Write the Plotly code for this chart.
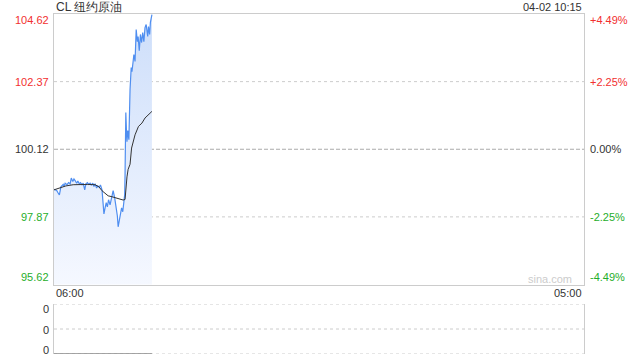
import plotly.graph_objects as go

title_text = "CL 纽约原油"
time_text = "04-02 10:15"
prev_close = 100.12
y_ticks = [104.62, 102.37, 100.12, 97.87, 95.62]
pct_labels = ["+4.49%", "+2.25%", "0.00%", "-2.25%", "-4.49%"]
x_labels = ["06:00", "05:00"]
session_minutes = 1380  # 06:00 -> 05:00 next day

price_min = [0, 7, 10, 14, 18, 24, 26, 29, 34, 38, 42, 45, 49, 52, 55, 59, 62, 66, 69, 73,
             76, 80, 83, 87, 90, 94, 97, 101, 104, 107, 111, 114, 118, 121, 125, 128, 130, 133, 136, 139,
             142, 146, 150, 154, 158, 161, 165, 167, 170, 173, 176, 179, 181, 184, 185, 187, 189, 190, 192, 195,
             198, 199, 201, 203, 205, 208, 211, 214, 217, 219, 222, 225, 228, 231, 234, 237, 240, 244, 246, 249,
             251, 254, 255]
price = [98.79, 98.75, 98.68, 98.60, 98.87, 98.95, 98.88, 98.99, 98.94, 99.01, 98.97, 99.16, 99.05, 99.13, 99.08,
         98.99, 99.06, 98.97, 99.01, 98.94, 98.99, 98.77, 98.97, 99.01, 98.95, 98.99, 98.93, 98.99, 98.88, 98.97,
         98.83, 98.90, 98.86, 98.93, 98.77, 98.37, 97.97, 98.17, 98.34, 98.20, 98.44, 98.27, 98.54, 98.74, 98.50,
         98.27, 97.90, 97.54, 97.80, 98.04, 98.17, 98.04, 98.37, 98.60, 99.27, 101.34, 100.60, 100.37, 100.74, 100.44,
         102.10, 102.40, 102.84, 102.70, 102.94, 103.27, 103.04, 104.10, 103.70, 103.87, 103.40, 103.94, 103.67, 104.00, 103.70,
         104.17, 104.27, 103.87, 104.20, 103.94, 104.34, 104.50, 104.60]

avg_min = [0, 16, 31, 50, 68, 88, 107, 117, 125, 133, 141, 151, 163, 172, 180, 185, 187, 190, 193, 198,
           202, 211, 220, 229, 237, 246, 255]
avg_price = [98.77, 98.84, 98.90, 98.94, 98.95, 98.95, 98.94, 98.87, 98.74, 98.64, 98.57, 98.54, 98.49, 98.47, 98.43,
             98.45, 98.80, 99.20, 99.45, 99.62, 100.16, 100.60, 100.88, 100.99, 101.16, 101.27, 101.38]

vol_min = [0, 255]
vol = [0, 0]
vol_ticks = [2, 1, 0]
vol_labels = ["0", "0", "0"]

RED = "#f23030"
GREEN = "#1fae2b"
DARK = "#333333"
FONT = "Liberation Sans, Arial, sans-serif"

fig = go.Figure()
fig.add_trace(go.Scatter(
    x=price_min, y=price, mode="lines",
    line=dict(color="#4f8ef0", width=1.2),
    fill="tozeroy",
    fillgradient=dict(type="vertical", start=y_ticks[-1], stop=y_ticks[0],
                      colorscale=[[0, "rgba(245,248,255,1)"], [1, "rgba(205,222,250,1)"]]),
    xaxis="x", yaxis="y", hoverinfo="skip"))
fig.add_trace(go.Scatter(
    x=avg_min, y=avg_price, mode="lines",
    line=dict(color="#333333", width=1),
    xaxis="x", yaxis="y", hoverinfo="skip"))
fig.add_trace(go.Scatter(
    x=vol_min, y=vol, mode="lines",
    line=dict(color="#888888", width=1.5),
    xaxis="x2", yaxis="y2", hoverinfo="skip"))

main_dom = [(354 - 284.5) / 340, 1]
low_dom = [0, 50 / 340]

fig.update_layout(
    width=640, height=360,
    margin=dict(l=54, r=56, t=14, b=6),
    paper_bgcolor="white", plot_bgcolor="white",
    showlegend=False,
    font=dict(family=FONT, size=11, color=DARK),
    xaxis=dict(range=[0, session_minutes], domain=[0, 1], anchor="y",
               showgrid=False, zeroline=False, showticklabels=False,
               showline=True, mirror=True, linecolor="#cccccc", linewidth=1, ticks=""),
    yaxis=dict(range=[y_ticks[-1], y_ticks[0]], domain=main_dom, anchor="x",
               showgrid=False, zeroline=False, showticklabels=False,
               showline=True, mirror=True, linecolor="#cccccc", linewidth=1, ticks=""),
    xaxis2=dict(range=[0, session_minutes], domain=[0, 1], anchor="y2",
                showgrid=False, zeroline=False, showticklabels=False, showline=False, ticks=""),
    yaxis2=dict(range=[0, 2], domain=low_dom, anchor="x2",
                showgrid=False, zeroline=False, showticklabels=False,
                showline=True, mirror=True, linecolor="#cccccc", linewidth=1, ticks=""),
)

shapes = []
for v in y_ticks[1:-1]:
    dash = "4px,2px" if v == prev_close else "dot"
    col = "#aaaaaa" if v == prev_close else "#cccccc"
    shapes.append(dict(type="line", xref="x domain", yref="y", x0=0, x1=1, y0=v, y1=v,
                       line=dict(color=col, width=1, dash=dash), layer="below"))
for v in vol_ticks:
    shapes.append(dict(type="line", xref="x2 domain", yref="y2", x0=0, x1=1, y0=v, y1=v,
                       line=dict(color="#cccccc", width=1, dash="dot"), layer="below"))
fig.update_layout(shapes=shapes)

ann = []
ann.append(dict(text=title_text, xref="paper", yref="paper", x=0, y=1 + 6.7 / 340,
                xanchor="left", yanchor="middle", showarrow=False,
                font=dict(size=12, color=DARK, family=FONT)))
ann.append(dict(text=time_text, xref="paper", yref="paper", x=1, y=1 + 6.7 / 340,
                xanchor="right", yanchor="middle", showarrow=False,
                font=dict(size=11, color=DARK, family=FONT)))
shifts = [-6, 0, 0, 0, 8]
for v, p, s in zip(y_ticks, pct_labels, shifts):
    col = RED if v > prev_close else (GREEN if v < prev_close else DARK)
    ann.append(dict(text=f"{v:.2f}", xref="paper", yref="y", x=0, y=v, xshift=-3, yshift=s,
                    xanchor="right", yanchor="middle", showarrow=False,
                    font=dict(size=11, color=col, family=FONT)))
    ann.append(dict(text=p, xref="paper", yref="y", x=1, y=v, xshift=4, yshift=s,
                    xanchor="left", yanchor="middle", showarrow=False,
                    font=dict(size=11, color=col, family=FONT)))
ann.append(dict(text=x_labels[0], xref="paper", yref="paper", x=0, y=(354 - 293.3) / 340,
                xanchor="left", yanchor="middle", showarrow=False,
                font=dict(size=11, color=DARK, family=FONT)))
ann.append(dict(text=x_labels[1], xref="paper", yref="paper", x=1, y=(354 - 293.3) / 340,
                xanchor="right", yanchor="middle", showarrow=False,
                font=dict(size=11, color=DARK, family=FONT)))
ann.append(dict(text="sina.com", xref="paper", yref="paper", x=1, xshift=-10, y=(354 - 279) / 340,
                xanchor="right", yanchor="middle", showarrow=False,
                font=dict(size=11, color="#cccccc", family=FONT)))
vshifts = [-5, -1, 4]
for v, t, s in zip(vol_ticks, vol_labels, vshifts):
    ann.append(dict(text=t, xref="paper", yref="y2", x=0, y=v, xshift=-3, yshift=s,
                    xanchor="right", yanchor="middle", showarrow=False,
                    font=dict(size=11, color=DARK, family=FONT)))
fig.update_layout(annotations=ann)

fig.write_html("out.html")
